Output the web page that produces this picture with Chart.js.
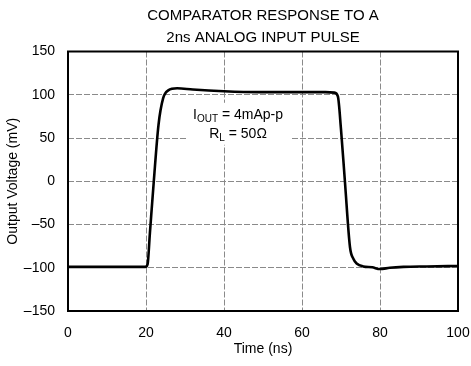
<!DOCTYPE html>
<html>
<head>
<meta charset="utf-8">
<script src="https://cdn.jsdelivr.net/npm/chart.js@4.4.0/dist/chart.umd.min.js"></script>
<style>
  html, body { margin: 0; padding: 0; background: #fff; }
  #wrap { width: 471px; height: 366px; position: relative; }
</style>
</head>
<body>
<div id="wrap"><canvas id="chart"></canvas></div>
<script>
// time axis (ns) and the output voltage trace (mV)
const timeNs = [0, 10, 19.8, 20.4, 21, 22, 23.2, 24.4, 25.7, 28, 32, 40, 49, 60, 66, 68.3, 69.2, 70, 71, 72.3, 73.2, 74, 75.7, 78, 80, 82.5, 86, 92, 100];
const voltMv = [-99, -99, -99, -96, -60, 0, 65, 96, 105, 107.5, 106, 104, 103, 103, 103, 102.5, 98, 60, 0, -76, -90, -95, -98.5, -99.5, -101.5, -100, -99, -98.5, -98];
const yTicks = [-150, -100, -50, 0, 50, 100, 150];
const xTicks = [0, 20, 40, 60, 80, 100];
const titleLines = ['COMPARATOR RESPONSE TO A', '2ns ANALOG INPUT PULSE'];

const FONT = "'Liberation Sans', Arial, Helvetica, sans-serif";
Chart.defaults.font.family = FONT;
Chart.defaults.color = '#000';

const points = timeNs.map((t, i) => ({ x: t, y: voltMv[i] }));

// note inside the plot, on a white box that hides the grid behind it
const notePlugin = {
  id: 'note',
  beforeDatasetsDraw(chart) {
    const ctx = chart.ctx;
    const xs = chart.scales.x, ys = chart.scales.y;
    const cx = xs.getPixelForValue(43.6);
    const y1 = ys.getPixelForValue(78);
    const y2 = ys.getPixelForValue(56);
    ctx.save();
    ctx.fillStyle = '#fff';
    ctx.fillRect(cx - 52, y1 - 11, 104, 42);
    ctx.fillStyle = '#000';
    ctx.textBaseline = 'alphabetic';
    // line 1: I_OUT = 4mAp-p
    const big = '14px ' + FONT, small = '10px ' + FONT;
    ctx.font = big;
    const wI = ctx.measureText('I').width;
    const rest1 = ' = 4mAp-p';
    const wR1 = ctx.measureText(rest1).width;
    ctx.font = small;
    const wSub1 = ctx.measureText('OUT').width;
    let x = cx - (wI + wSub1 + wR1) / 2;
    const b1 = y1 + 5;
    ctx.font = big; ctx.fillText('I', x, b1); x += wI;
    ctx.font = small; ctx.fillText('OUT', x, b1 + 3); x += wSub1;
    ctx.font = big; ctx.fillText(rest1, x, b1);
    // line 2: R_L = 50Ω
    const wR = ctx.measureText('R').width;
    const rest2 = ' = 50\u03A9';
    const wR2 = ctx.measureText(rest2).width;
    ctx.font = small;
    const wSub2 = ctx.measureText('L').width;
    x = cx - (wR + wSub2 + wR2) / 2;
    const b2 = y2 + 5;
    ctx.font = big; ctx.fillText('R', x, b2); x += wR;
    ctx.font = small; ctx.fillText('L', x, b2 + 3); x += wSub2;
    ctx.font = big; ctx.fillText(rest2, x, b2);
    ctx.restore();
  },
  afterDraw(chart) {
    // heavy frame round the plot
    const a = chart.chartArea, ctx = chart.ctx;
    ctx.save();
    ctx.strokeStyle = '#000';
    ctx.lineWidth = 2;
    ctx.strokeRect(a.left, a.top, a.right - a.left, a.bottom - a.top);
    ctx.restore();
  }
};

new Chart(document.getElementById('chart'), {
  type: 'line',
  data: {
    datasets: [{
      data: points,
      borderColor: '#000',
      borderWidth: 2.6,
      pointRadius: 0,
      cubicInterpolationMode: 'monotone',
      fill: false
    }]
  },
  options: {
    responsive: true,
    maintainAspectRatio: false,
    animation: false,
    layout: { padding: { left: 0, right: 13, top: 1, bottom: 4 } },
    plugins: {
      legend: { display: false },
      tooltip: { enabled: false },
      title: {
        display: true,
        text: titleLines,
        fullSize: false,
        color: '#000',
        font: { size: 15, weight: 'normal', family: FONT, lineHeight: 1.45 },
        padding: { top: 4, bottom: 3 }
      }
    },
    scales: {
      x: {
        type: 'linear',
        min: 0, max: 100,
        afterBuildTicks: s => { s.ticks = xTicks.map(v => ({ value: v })); },
        afterFit: s => { s.height = 51; s.paddingLeft = 0; s.paddingRight = 0; },
        grid: { color: '#8a8a8a', lineWidth: 1, drawTicks: false },
        border: { display: false, dash: [6, 2] },
        ticks: { font: { size: 14 }, color: '#000', padding: 14, maxRotation: 0 },
        title: { display: true, text: 'Time (ns)', font: { size: 14 }, color: '#000', padding: { top: 0, bottom: 4 } }
      },
      y: {
        type: 'linear',
        min: -150, max: 150,
        afterBuildTicks: s => { s.ticks = yTicks.map(v => ({ value: v })); },
        afterFit: s => { s.width = 68; s.paddingTop = 0; s.paddingBottom = 0; },
        grid: { color: '#8a8a8a', lineWidth: 1, drawTicks: false },
        border: { display: false, dash: [6, 2] },
        ticks: {
          font: { size: 14 }, color: '#000', padding: 13,
          callback: v => (v < 0 ? '\u2013' + Math.abs(v) : String(v))
        },
        title: { display: true, text: 'Output Voltage (mV)', font: { size: 14 }, color: '#000', padding: { top: 5, bottom: 0 } }
      }
    }
  },
  plugins: [notePlugin]
});
</script>
</body>
</html>
